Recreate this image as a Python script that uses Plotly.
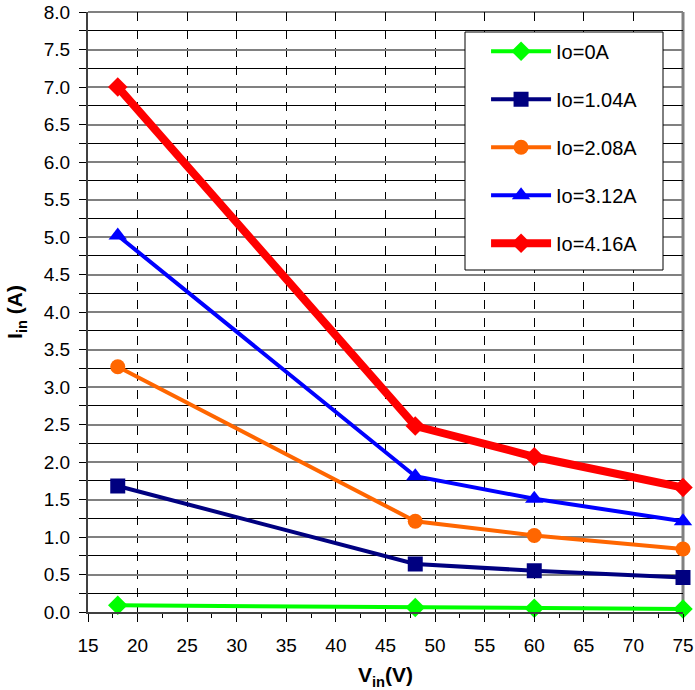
import plotly.graph_objects as go

vin = [18, 48, 60, 75]
names = ["Io=0A", "Io=1.04A", "Io=2.08A", "Io=3.12A", "Io=4.16A"]
iin_0 = [0.09, 0.06, 0.05, 0.04]
iin_104 = [1.68, 0.64, 0.55, 0.46]
iin_208 = [3.27, 1.21, 1.02, 0.84]
iin_312 = [5.02, 1.81, 1.51, 1.21]
iin_416 = [7.00, 2.48, 2.07, 1.66]

series = [iin_0, iin_104, iin_208, iin_312, iin_416]
colors = ["#00ff00", "#000080", "#ff6600", "#0000ff", "#ff0000"]
symbols = ["diamond", "square", "circle", "triangle-up", "diamond"]
widths = [4, 4, 4, 4, 8]
sizes = [15, 15, 15, 16, 15]

fig = go.Figure()
for i, (nm, ys) in enumerate(zip(names, series)):
    fig.add_trace(go.Scatter(
        x=vin, y=ys, name=nm, mode="lines+markers",
        line=dict(color=colors[i], width=widths[i]),
        marker=dict(color=colors[i], symbol=symbols[i], size=sizes[i]),
        legendgroup=nm, cliponaxis=False,
    ))

font = "Liberation Sans, Arial, sans-serif"
fig.update_layout(
    width=695, height=690,
    margin=dict(l=88, r=12, t=12, b=78, autoexpand=False),
    paper_bgcolor="white", plot_bgcolor="white",
    font=dict(family=font, size=19, color="black"),
    showlegend=True,
    legend=dict(
        x=0.669, y=0.967, xanchor="left", yanchor="top",
        borderwidth=0, bgcolor="rgba(0,0,0,0)",
        font=dict(family=font, size=20, color="black"),
        traceorder="grouped", tracegroupgap=19, itemwidth=60,
    ),
    xaxis=dict(
        range=[15, 75], dtick=5, tick0=15, automargin=False,
        showgrid=True, gridcolor="black", gridwidth=1, griddash="dash",
        showline=True, linecolor="#404040", linewidth=2,
        ticks="outside", ticklen=8, tickcolor="black", ticklabelstandoff=7,
        minor=dict(dtick=2.5, ticks="outside", ticklen=4, tickcolor="black", showgrid=False),
        zeroline=False,
        title=dict(text="V<sub>in</sub>(V)", font=dict(family=font, size=21, weight="bold"), standoff=13),
    ),
    yaxis=dict(
        range=[0, 8], dtick=0.5, tick0=0, tickformat=".1f", automargin=False,
        showgrid=True, gridcolor="#808080", gridwidth=2,
        showline=True, linecolor="#404040", linewidth=2,
        ticks="outside", ticklen=7, tickcolor="black", ticklabelstandoff=5,
        minor=dict(dtick=0.25, ticks="outside", ticklen=7, tickcolor="black",
                   showgrid=True, gridcolor="black", gridwidth=1),
        zeroline=False,
        title=dict(text="I<sub>in</sub> (A)", font=dict(family=font, size=21, weight="bold"), standoff=15),
    ),
)
fig.add_shape(type="line", xref="paper", yref="paper", x0=1, x1=1, y0=0, y1=1,
              line=dict(color="#808080", width=3), layer="below")
fig.add_shape(type="line", xref="paper", yref="paper", x0=0, x1=1, y0=1, y1=1,
              line=dict(color="#808080", width=2), layer="below")
# legend frame
fig.add_shape(type="rect", xref="paper", yref="paper",
              x0=(465 - 88) / 595, x1=(663 - 88) / 595,
              y0=(612 - 270) / 600, y1=(612 - 32) / 600,
              line=dict(color="black", width=1), fillcolor="white", layer="above")

fig.write_html("out.html", config={"displayModeBar": False},
               post_script="document.body.style.margin='0';document.body.style.padding='0';")
